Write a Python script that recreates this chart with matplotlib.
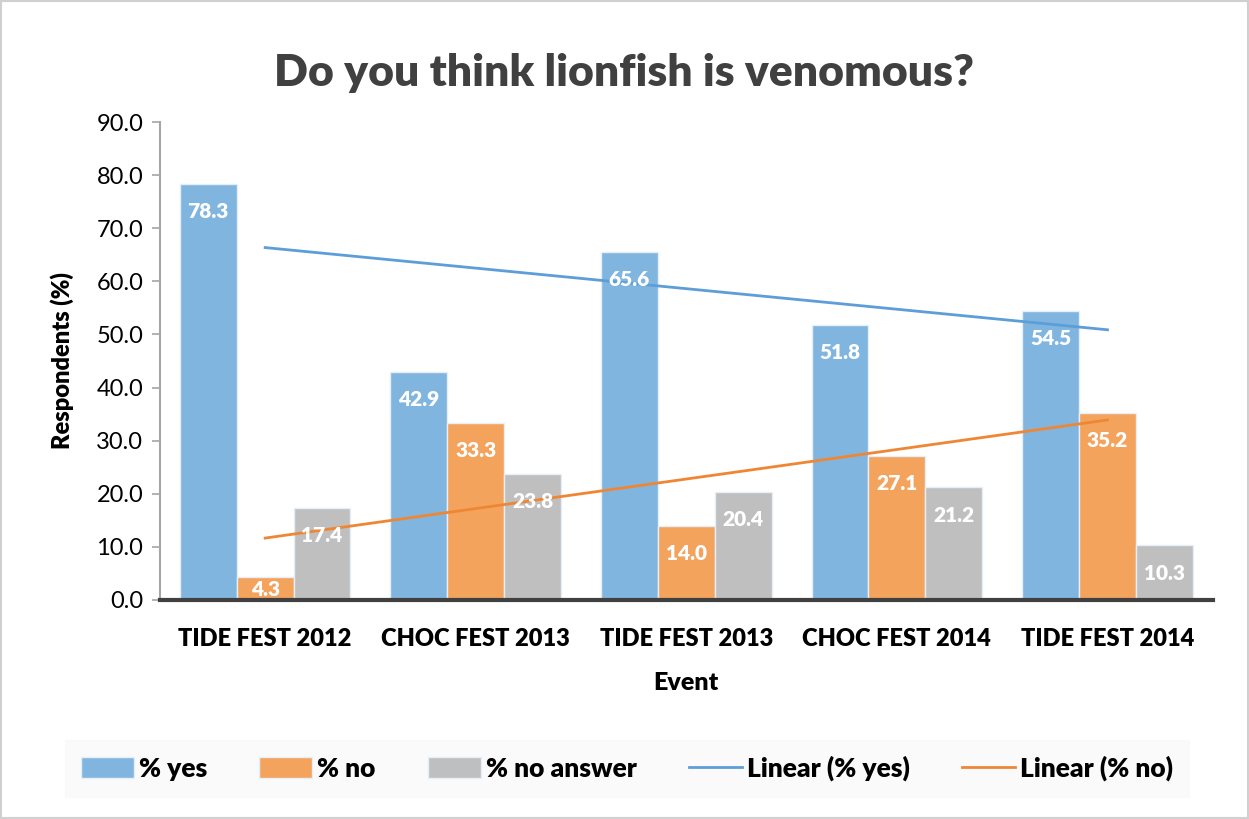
import numpy as np
import matplotlib
matplotlib.use("Agg")
import matplotlib.pyplot as plt
from matplotlib.patches import Rectangle

plt.rcParams['font.family'] = ['Lato', 'DejaVu Sans']

events = ["TIDE FEST 2012", "CHOC FEST 2013", "TIDE FEST 2013", "CHOC FEST 2014", "TIDE FEST 2014"]
pct_yes = [78.3, 42.9, 65.6, 51.8, 54.5]
pct_no = [4.3, 33.3, 14.0, 27.1, 35.2]
pct_no_answer = [17.4, 23.8, 20.4, 21.2, 10.3]

blue = "#80b5e0"
orange = "#f4a35d"
grey = "#bfbfbf"
trend_blue = "#5d9ed8"
trend_orange = "#ef8634"
HW = "heavy"

fig = plt.figure(figsize=(12.49, 8.19), dpi=100)
ax = fig.add_axes([0.128, 0.2674, 0.843, 0.5836])

x = np.arange(len(events))
w = 0.27
series = [(pct_yes, blue, "% yes"), (pct_no, orange, "% no"), (pct_no_answer, grey, "% no answer")]
handles = []
for i, (vals, col, lab) in enumerate(series):
    bars = ax.bar(x + (i - 1) * w, vals, w, color=col, edgecolor="#e6eef7", linewidth=1, label=lab, zorder=2)
    handles.append(bars)
    for b, v in zip(bars, vals):
        off = -20 if v > 8 else -9
        ax.annotate(f"{v:.1f}", (b.get_x() + b.get_width() / 2, v), xytext=(0, off),
                    textcoords="offset points", ha="center", va="center",
                    color="white", fontsize=15, fontweight=HW, zorder=4)

# linear trend lines
for vals, col, lab in [(pct_yes, trend_blue, "Linear (% yes)"), (pct_no, trend_orange, "Linear (% no)")]:
    k, c = np.polyfit(x, vals, 1)
    ln, = ax.plot(x, k * x + c, color=col, linewidth=2, label=lab, zorder=3)
    handles.append(ln)

ax.set_xlim(-0.5, 4.5)
ax.set_ylim(0, 90)
ax.set_yticks(np.arange(0, 91, 10))
ax.set_yticklabels([f"{t:.1f}" for t in np.arange(0, 91, 10)], fontsize=17)
ax.set_xticks(x)
ax.set_xticklabels(events, fontsize=17, fontweight=HW)
ax.tick_params(axis="x", length=0, pad=20)
ax.tick_params(axis="y", length=6, color="#a6a6a6", width=1.2, pad=6)
for s in ["top", "right"]:
    ax.spines[s].set_visible(False)
ax.spines["left"].set_color("#a6a6a6")
ax.spines["left"].set_linewidth(1.5)
ax.spines["bottom"].set_color("#404040")
ax.spines["bottom"].set_linewidth(3)
ax.spines["bottom"].set_zorder(5)

ax.set_ylabel("Respondents (%)", fontsize=17, fontweight=HW, labelpad=16)
ax.set_xlabel("Event", fontsize=18, fontweight=HW, labelpad=16)

fig.suptitle("Do you think lionfish is venomous?", fontsize=32, fontweight=HW,
             color="#404040", y=0.935)

leg = fig.legend(handles=handles, loc="lower left", bbox_to_anchor=(0.052, 0.027, 0.9, 0.072),
                 mode="expand", ncol=5, frameon=True, prop={"weight": HW, "size": 19},
                 handlelength=2.0, handleheight=0.85, handletextpad=0.2, borderaxespad=0,
                 borderpad=0.6, fancybox=False)
leg.get_frame().set_facecolor("#f9f9f9")
leg.get_frame().set_edgecolor("#f9f9f9")

fig.patches.append(Rectangle((0.001, 0.001), 0.998, 0.998, transform=fig.transFigure,
                             fill=False, edgecolor="#d0d0d0", linewidth=1.5))

fig.savefig("out.png", dpi=100)
